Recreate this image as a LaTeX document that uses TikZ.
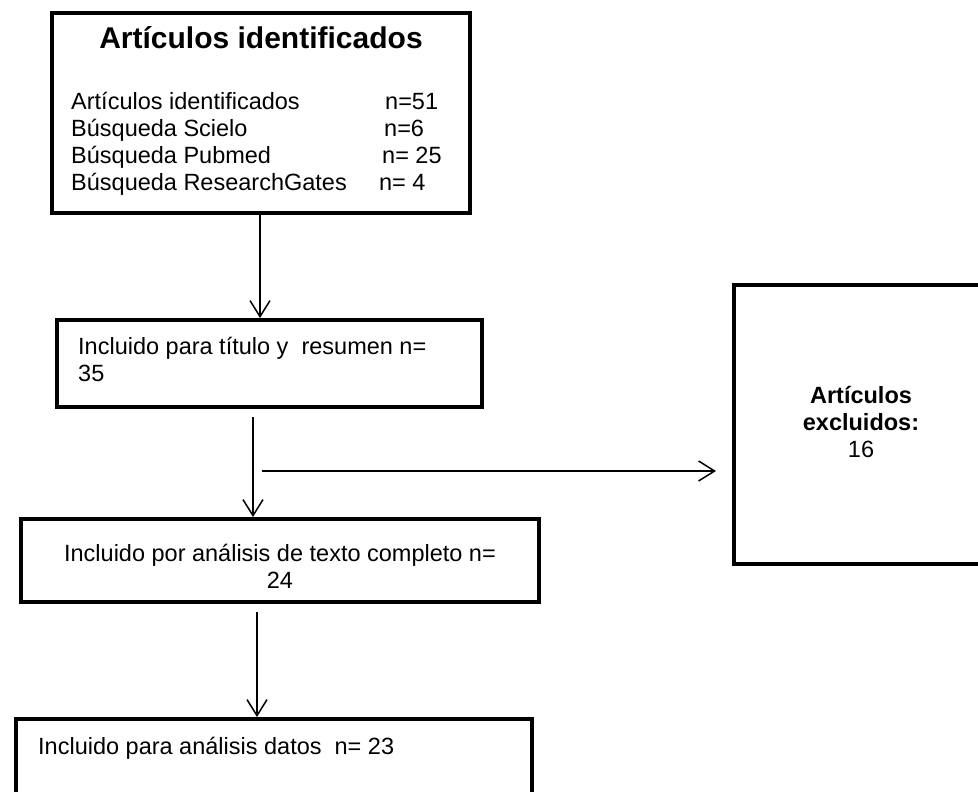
\documentclass[tikz,border=0pt]{standalone}
\usepackage{fontspec}
\setmainfont{Liberation Sans}
\usetikzlibrary{arrows.meta, positioning, calc}
\newcommand{\countrow}[3]{\makebox[#1pt][l]{#2}#3}
\tikzset{
  flowbox/.style = {
    draw,
    line width=4pt,
    inner sep=0pt,
    anchor=north west,
  },
  boxtext/.style = {
    inner sep=0pt,
    font=\fontsize{23.5}{27}\selectfont,
  },
  titletext/.style = {
    inner sep=0pt,
    font=\fontsize{30}{34}\selectfont\bfseries,
  },
  flow/.style = {
    -{Straight Barb[length=16pt, width=20pt]},
    line width=1.5pt,
  },
}

\begin{document}
\begin{tikzpicture}[x=1pt, y=-1pt]
\useasboundingbox (0,0) rectangle (978,792);
\clip (0,0) rectangle (978,792);

% boxes
\node[flowbox, minimum width=418, minimum height=200] (identified) at (50,11) {};
\node[flowbox, minimum width=425, minimum height=87] (screened) at (55,318) {};
\node[flowbox, minimum width=518, minimum height=83] (fulltext) at (19,517) {};
\node[flowbox, minimum width=258, minimum height=279] (excluded) at (732,283) {};
\node[flowbox, minimum width=516, minimum height=100] (analysis) at (14,717) {};

% texts
\node[titletext, anchor=base] (identifiedTitle) at (identified.north |- 0,49) {Artículos identificados};
\node[boxtext, anchor=base west] (identifiedList) at (71,110) {%
  \begin{tabular}[t]{@{}l@{}}
    \countrow{314}{Artículos identificados}{n=51}\\
    \countrow{313}{Búsqueda Scielo}{n=6}\\
    \countrow{311}{Búsqueda Pubmed}{n= 25}\\
    \countrow{308}{Búsqueda ResearchGates}{n= 4}
  \end{tabular}};
\node[boxtext, anchor=base west] (screenedText) at (78,354) {%
  \begin{tabular}[t]{@{}l@{}}
    Incluido para título y\ \ resumen n=\\
    35
  \end{tabular}};
\node[boxtext, anchor=base] (fulltextText) at (fulltext.north |- 0,561) {%
  \begin{tabular}[t]{@{}c@{}}
    Incluido por análisis de texto completo n=\\
    24
  \end{tabular}};
\node[boxtext, anchor=base] (excludedText) at (861,403) {%
  \begin{tabular}[t]{@{}c@{}}
    \textbf{Artículos}\\
    \textbf{excluidos:}\\
    16
  \end{tabular}};
\node[boxtext, anchor=base west] (analysisText) at (38,754) {Incluido para análisis datos\ \ n= 23};

% connectors
\coordinate (a1) at (260,0);
\draw[flow] (identified.south -| a1) -- (screened.north -| a1);

\coordinate (a2) at (253,417);
\draw[flow] (a2) -- (a2 |- fulltext.north);

\coordinate (a3) at (262,471);
\draw[flow] (a3) -- ($(excluded.west |- a3)+(-16,0)$);

\coordinate (a4) at (257,612);
\draw[flow] (a4) -- (a4 |- analysis.north);

\end{tikzpicture}
\end{document}
